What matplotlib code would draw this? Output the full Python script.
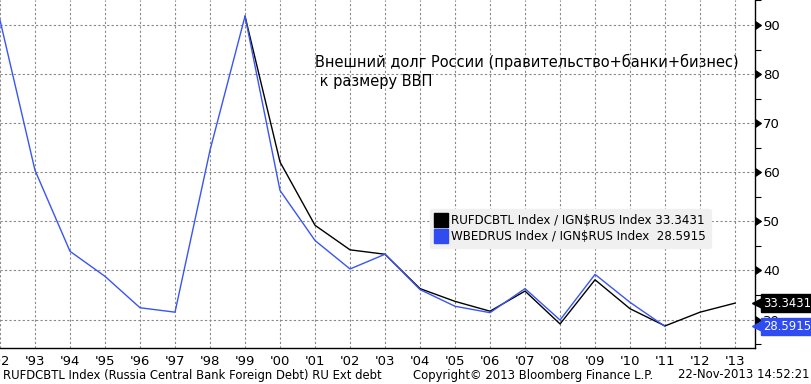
import numpy as np
import matplotlib
matplotlib.use("Agg")
from matplotlib import pyplot as plt
from matplotlib import markers as mmarkers
from matplotlib.lines import Line2D
import matplotlib.transforms as mtrans

# values (external debt, % of GDP)
years_blue = list(range(1992, 2012))
wbedrus = [91.0, 60.4, 43.9, 38.8, 32.4, 31.5, 64.5, 91.8, 56.3, 46.1,
           40.3, 43.3, 36.1, 32.7, 31.4, 36.3, 29.9, 39.2, 33.5, 28.5915]
years_black = list(range(1999, 2014))
rufdcbtl = [91.8, 62.1, 49.2, 44.2, 43.3, 36.3, 33.7, 31.7, 35.8, 29.1,
            38.1, 32.2, 28.7, 31.5, 33.3431]
last_black = 33.3431
last_blue = 28.5915

tick_years = list(range(1992, 2014))
tick_labels = ["'%02d" % (y % 100) for y in tick_years]
y_major = [30, 40, 50, 60, 70, 80, 90]
y_minor = [25, 35, 45, 55, 65, 75, 85, 95]

title_txt = "Внешний долг России (правительство+банки+бизнес)\n к размеру ВВП"
leg_black = "RUFDCBTL Index / IGN$RUS Index 33.3431"
leg_blue = "WBEDRUS Index / IGN$RUS Index  28.5915"
footer_left = "RUFDCBTL Index (Russia Central Bank Foreign Debt) RU Ext debt"
footer_mid = "Copyright\u00a9 2013 Bloomberg Finance L.P."
footer_right = "22-Nov-2013 14:52:21"

BLACK = "#000000"
BLUE = "#3a55f0"
BLUE_TAG = "#2f4cf0"

plt.rcParams['font.family'] = ['DejaVu Sans']

fig = plt.figure(figsize=(8.12, 3.84), dpi=100)
ax = fig.add_axes([0.0, 1 - 348 / 384, 755 / 812, 348 / 384])

ax.plot(years_blue, wbedrus, color=BLUE, lw=1.0, zorder=3)
ax.plot(years_black, rufdcbtl, color=BLACK, lw=1.0, zorder=2)

ax.set_xlim(1992, 2013.57)
ax.set_ylim(24.2, 95.1)

ax.set_xticks(tick_years)
ax.set_xticklabels(tick_labels, fontsize=9.5)
ax.tick_params(axis='x', length=0, pad=5)

ax.yaxis.tick_right()
ax.set_yticks(y_major)
ax.set_yticks(y_minor, minor=True)
ax.tick_params(axis='y', which='major', labelsize=9.5, pad=1, length=5, width=0.8)
ax.tick_params(axis='y', which='minor', length=4, width=0.8, right=True, left=False)
for t in ax.yaxis.get_major_ticks():
    t.tick2line.set_marker(mmarkers.CARETRIGHTBASE)
    t.tick2line.set_markersize(6)
    t.tick2line.set_color('black')

ax.grid(True, which='major', color='#888888', linestyle=(0, (2, 2)), lw=0.8)
for s in ['top', 'left']:
    ax.spines[s].set_visible(False)
ax.spines['bottom'].set_linewidth(1.0)
ax.spines['right'].set_linewidth(1.0)

# legend
handles = [Line2D([0], [0], marker='s', color='none', markerfacecolor=BLACK,
                  markeredgecolor=BLACK, markersize=10, label=leg_black),
           Line2D([0], [0], marker='s', color='none', markerfacecolor=BLUE_TAG,
                  markeredgecolor=BLUE_TAG, markersize=10, label=leg_blue)]
leg = ax.legend(handles=handles, loc='upper left', bbox_to_anchor=(430 / 755, 1 - 209 / 348),
                fontsize=8.6, frameon=True, fancybox=True, facecolor='#f0f0f0',
                edgecolor='#f0f0f0', framealpha=1, handlelength=0.9, handletextpad=0.4,
                labelspacing=0.2, borderpad=0.45, borderaxespad=0)

# title text
fig.text(315 / 812, 1 - 54 / 384, title_txt, fontsize=10.5, va='top', ha='left',
         linespacing=1.3)

# last value tags on right axis
tr = mtrans.blended_transform_factory(ax.transAxes, ax.transData)
for val, col in [(last_black, BLACK), (last_blue, BLUE_TAG)]:
    ax.plot([1.005], [val], marker='<', markersize=10, color=col, transform=tr,
            clip_on=False, zorder=5)
    ax.text(1.011, val, "%.4f" % val, transform=tr, color='white', fontsize=8.4,
            va='center', ha='left', clip_on=False, zorder=6,
            bbox=dict(boxstyle='square,pad=0.2', fc=col, ec=col))

# footer
fy = 1 - 375 / 384
fig.text(3 / 812, fy, footer_left, fontsize=8.4, va='center', ha='left')
fig.text(413 / 812, fy, footer_mid, fontsize=8.4, va='center', ha='left')
fig.text(810 / 812, fy, footer_right, fontsize=8.4, va='center', ha='right')

fig.savefig("out.png", dpi=100)
